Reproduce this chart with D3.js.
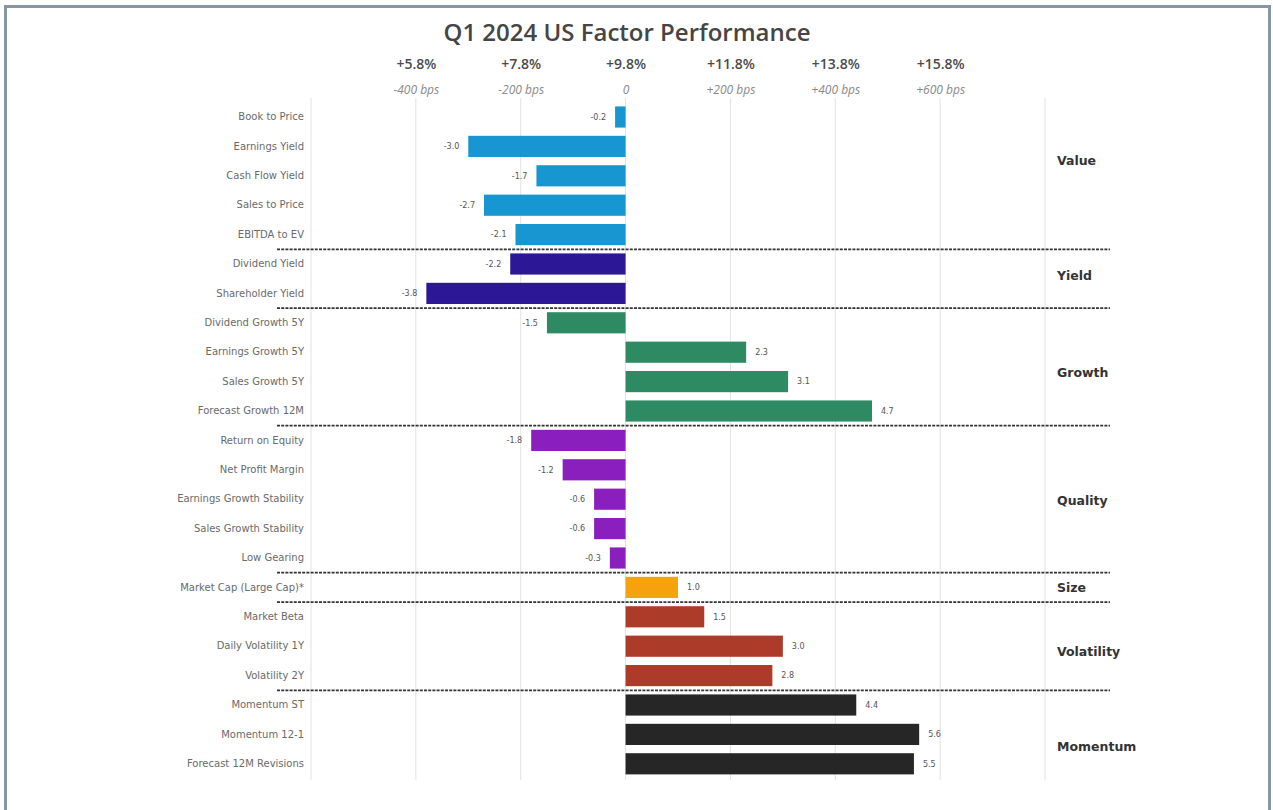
<!DOCTYPE html>
<html>
<head>
<meta charset="utf-8">
<script src="https://cdn.jsdelivr.net/npm/d3@7"></script>
<style>
  body { margin: 0; background: #fff; }
  svg { display: block; }
</style>
</head>
<body>
<div id="chart"></div>
<script>
// chart data
var factors = [
    "Book to Price", "Earnings Yield", "Cash Flow Yield", "Sales to Price", "EBITDA to EV",
    "Dividend Yield", "Shareholder Yield",
    "Dividend Growth 5Y", "Earnings Growth 5Y", "Sales Growth 5Y", "Forecast Growth 12M",
    "Return on Equity", "Net Profit Margin", "Earnings Growth Stability", "Sales Growth Stability", "Low Gearing",
    "Market Cap (Large Cap)*",
    "Market Beta", "Daily Volatility 1Y", "Volatility 2Y",
    "Momentum ST", "Momentum 12-1", "Forecast 12M Revisions"
];
var values = [
    -0.2, -3.0, -1.7, -2.7, -2.1,
    -2.2, -3.8,
    -1.5, 2.3, 3.1, 4.7,
    -1.8, -1.2, -0.6, -0.6, -0.3,
    1.0,
    1.5, 3.0, 2.8,
    4.4, 5.6, 5.5
];
var groups = ["Value", "Yield", "Growth", "Quality", "Size", "Volatility", "Momentum"];
var groupSizes = [5, 2, 4, 5, 1, 3, 3];
var groupColors = ["#1796d2", "#2c1896", "#2e8a63", "#8a1fbe", "#f6a20f", "#ad3b29", "#262626"];

// top axis: excess return (in %) and matching total return label
var tickValues = [-4, -2, 0, 2, 4, 6];
var totalReturnLabels = ["+5.8%", "+7.8%", "+9.8%", "+11.8%", "+13.8%", "+15.8%"];
var bpsLabels = ["-400 bps", "-200 bps", "0", "+200 bps", "+400 bps", "+600 bps"];
var gridValues = [-6, -4, -2, 0, 2, 4, 6, 8];

// layout
var width = 1273;
var height = 810;
var groupLabelShift = [-0.5, -0.1, 0.2, 0.05, 0, 0.2, 0.4];

var svg = d3.select("#chart")
            .append("svg")
            .attr("width", width)
            .attr("height", height);

// frame
svg.append("rect")
    .attr("x", 5.5)
    .attr("y", 6.5)
    .attr("width", 1264)
    .attr("height", 830)
    .attr("fill", "#fff")
    .attr("stroke", "#8796a5")
    .attr("stroke-width", 3);

var x = d3.scaleLinear()
            .domain([-6, 8])
            .range([311, 1045]);

var y = d3.scaleBand()
            .domain(factors)
            .range([102.3, 778.5])
            .paddingInner(0.28)
            .paddingOuter(0.14);

var groupIndex = [];
groupSizes.forEach(function(n, g){
    for (var i = 0; i < n; i++) groupIndex.push(g);
});

// gridlines
svg.append("g")
    .selectAll("line")
    .data(gridValues)
    .enter()
    .append("line")
    .attr("x1", function(d){ return x(d); })
    .attr("x2", function(d){ return x(d); })
    .attr("y1", 98)
    .attr("y2", 780)
    .attr("stroke", "#e2e2e2")
    .attr("stroke-width", 1);

// title
svg.append("text")
    .attr("x", 627)
    .attr("y", 41)
    .attr("text-anchor", "middle")
    .style("font-family", "'Open Sans', sans-serif")
    .style("font-weight", 600)
    .style("font-size", "24px")
    .style("fill", "#454545")
    .text("Q1 2024 US Factor Performance");

// top axis rows
var topAxis = svg.append("g")
                .attr("transform", "translate(0,69)")
                .call(d3.axisTop(x)
                    .tickValues(tickValues)
                    .tickSize(0)
                    .tickPadding(0)
                    .tickFormat(function(d, i){ return totalReturnLabels[i]; }));
topAxis.select(".domain").remove();
topAxis.selectAll("text")
    .style("font-family", "'Open Sans', sans-serif")
    .style("font-weight", 600)
    .style("font-size", "14px")
    .style("fill", "#4a4a4a");

var bpsAxis = svg.append("g")
                .attr("transform", "translate(0,94)")
                .call(d3.axisTop(x)
                    .tickValues(tickValues)
                    .tickSize(0)
                    .tickPadding(0)
                    .tickFormat(function(d, i){ return bpsLabels[i]; }));
bpsAxis.select(".domain").remove();
bpsAxis.selectAll("text")
    .style("font-family", "'Open Sans', sans-serif")
    .style("font-style", "italic")
    .style("font-size", "12px")
    .style("fill", "#8a8a8a");

// factor names
var leftAxis = svg.append("g")
                .attr("transform", "translate(304,0)")
                .call(d3.axisLeft(y).tickSize(0).tickPadding(0));
leftAxis.select(".domain").remove();
leftAxis.selectAll("text")
    .style("font-family", "'DejaVu Sans', sans-serif")
    .style("font-size", "10px")
    .style("fill", "#6a6a6a");

// bars
svg.append("g")
    .selectAll("rect")
    .data(values)
    .enter()
    .append("rect")
    .attr("x", function(d){ return x(Math.min(0, d)); })
    .attr("y", function(d, i){ return y(factors[i]); })
    .attr("width", function(d){ return Math.abs(x(d) - x(0)); })
    .attr("height", y.bandwidth())
    .attr("fill", function(d, i){ return groupColors[groupIndex[i]]; });

// value labels (plain hyphen for negatives)
svg.append("g")
    .selectAll("text")
    .data(values)
    .enter()
    .append("text")
    .attr("x", function(d){ return d < 0 ? x(d) - 9 : x(d) + 9; })
    .attr("y", function(d, i){ return y(factors[i]) + y.bandwidth() / 2; })
    .attr("dy", "0.35em")
    .attr("text-anchor", function(d){ return d < 0 ? "end" : "start"; })
    .style("font-family", "'DejaVu Sans', sans-serif")
    .style("font-size", "8px")
    .style("fill", "#555")
    .text(function(d){ return d.toFixed(1); });

// dotted separators between groups
var boundaries = [];
var acc = 0;
groupSizes.forEach(function(n, g){
    acc += n;
    if (g < groupSizes.length - 1) boundaries.push(acc);
});
svg.append("g")
    .selectAll("line")
    .data(boundaries)
    .enter()
    .append("line")
    .attr("x1", 277)
    .attr("x2", 1110)
    .attr("y1", function(d){ return y(factors[d]) - y.step() * y.paddingInner() / 2; })
    .attr("y2", function(d){ return y(factors[d]) - y.step() * y.paddingInner() / 2; })
    .attr("stroke", "#333")
    .attr("stroke-width", 1.8)
    .attr("stroke-dasharray", "3,1.2");

// group names
var start = 0;
var groupCenters = groupSizes.map(function(n, g){
    var c = start + (n - 1) / 2 + groupLabelShift[g];
    start += n;
    return c;
});
svg.append("g")
    .selectAll("text")
    .data(groups)
    .enter()
    .append("text")
    .attr("x", 1057)
    .attr("y", function(d, i){ return y(factors[0]) + y.bandwidth() / 2 + groupCenters[i] * y.step(); })
    .attr("dy", "0.35em")
    .style("font-family", "'DejaVu Sans', sans-serif")
    .style("font-weight", "bold")
    .style("font-size", "12.5px")
    .style("fill", "#333")
    .text(function(d){ return d; });
</script>
</body>
</html>
